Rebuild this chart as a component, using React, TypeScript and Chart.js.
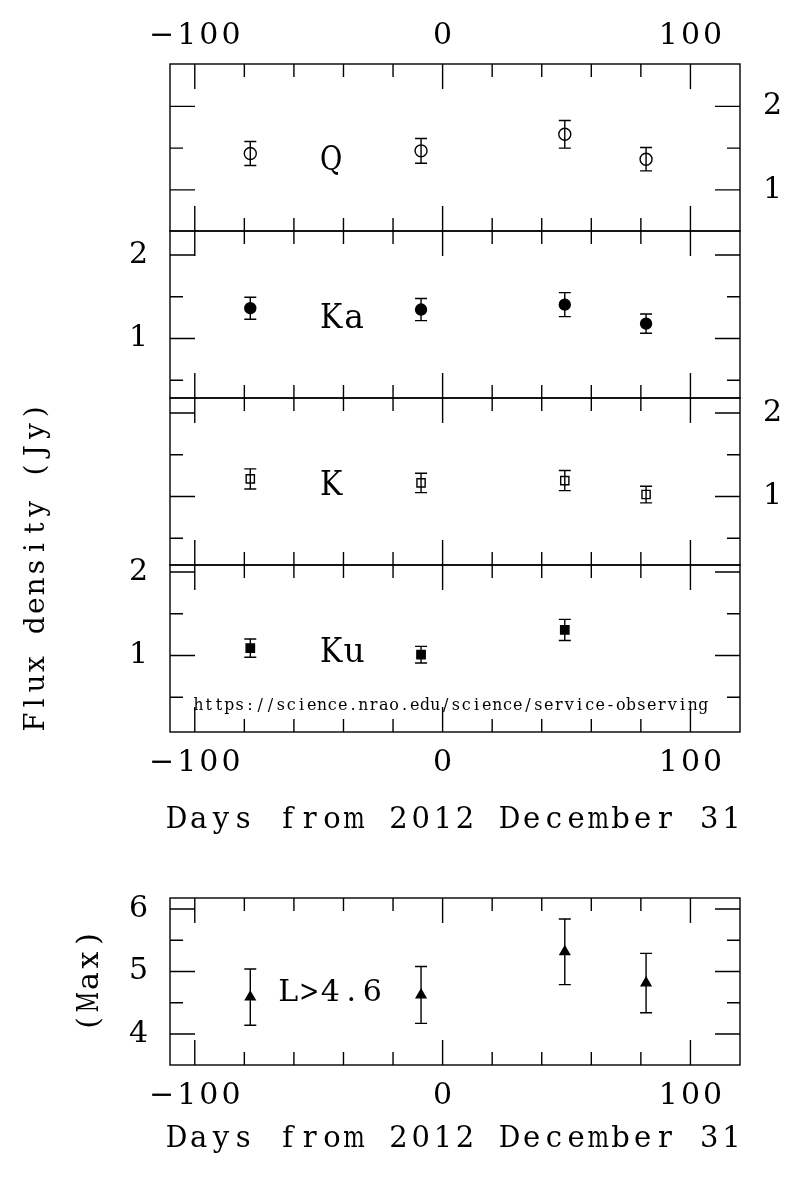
import React, { useEffect, useRef } from "react";
import { Chart, registerables } from "chart.js";

Chart.register(...registerables);

// ---------------- data ----------------
const obsDays = [-77.6, -8.7, 49.3, 82.1];
const qFlux = [1.436, 1.468, 1.666, 1.368];
const qErr = [0.144, 0.148, 0.166, 0.14];
const kaFlux = [1.362, 1.346, 1.405, 1.178];
const kaErr = [0.132, 0.132, 0.144, 0.115];
const kFlux = [1.211, 1.163, 1.191, 1.024];
const kErr = [0.12, 0.116, 0.12, 0.1];
const kuDays = [-77.6, -8.7, 49.3];
const kuFlux = [1.089, 1.01, 1.306];
const kuErr = [0.109, 0.1, 0.127];
const lMax = [4.59, 4.625, 5.315, 4.815];
const lErr = [0.45, 0.455, 0.525, 0.475];

const xMajor = [-100, 0, 100];
const xMinor = [-80, -60, -40, -20, 20, 40, 60, 80];
const fluxMajor = [1, 2];
const fluxMinor = [0.5, 1.5];
const lMajor = [4, 5, 6];
const lMinor = [4.5, 5.5];

const xTitle = "Days from 2012 December 31";
const fluxTitle = "Flux density (Jy)";
const lTitle = "(Max)";
const urlText = "https://science.nrao.edu/science/service-observing";

// ---------------- styling ----------------
const FONT = '"DejaVu Serif", "Liberation Serif", serif';
const W = 800;
const H = 1182;
const X_MIN = -110;
const X_MAX = 120;
const FRAME_LEFT = 170;
const FRAME_RIGHT = 740;
const LW = 1.4;
const MAJOR_LEN = 25;
const MINOR_LEN = 13;
const Y_AXIS_W_LEFT = 120;
const Y_AXIS_W_RIGHT = 60;
const X_AXIS_H = 60;
const TICK_SIZE = 30;
const TICK_SPACING = 3;

type TextItem = {
  text: string;
  x: number;
  y: number;
  data?: boolean;
  size: number;
  pitch: number;
  align?: "left" | "center";
  rotate?: boolean;
};

type Panel = {
  top: number;
  bottom: number;
  yMin: number;
  yMax: number;
  ySide: "left" | "right";
  xTop: boolean;
  xBottom: boolean;
  xs: number[];
  ys: number[];
  errs: number[];
  style: string;
  filled: boolean;
  radius: number;
  yMajor: number[];
  yMinor: number[];
  texts: TextItem[];
};

const panels: Panel[] = [
  {
    top: 64, bottom: 231, yMin: 0.508, yMax: 2.508, ySide: "right", xTop: true, xBottom: false,
    xs: obsDays, ys: qFlux, errs: qErr, style: "circle", filled: false, radius: 6,
    yMajor: fluxMajor, yMinor: fluxMinor,
    texts: [{ text: "Q", x: -49.6, y: 1.338, data: true, size: 33, pitch: 23 }],
  },
  {
    top: 231, bottom: 398, yMin: 0.287, yMax: 2.287, ySide: "left", xTop: false, xBottom: false,
    xs: obsDays, ys: kaFlux, errs: kaErr, style: "circle", filled: true, radius: 5.5,
    yMajor: fluxMajor, yMinor: fluxMinor,
    texts: [{ text: "Ka", x: -49.6, y: 1.229, data: true, size: 33, pitch: 23 }],
  },
  {
    top: 398, bottom: 565, yMin: 0.18, yMax: 2.18, ySide: "right", xTop: false, xBottom: false,
    xs: obsDays, ys: kFlux, errs: kErr, style: "rect", filled: false, radius: 5.8,
    yMajor: fluxMajor, yMinor: fluxMinor,
    texts: [{ text: "K", x: -49.6, y: 1.126, data: true, size: 33, pitch: 23 }],
  },
  {
    top: 565, bottom: 732, yMin: 0.084, yMax: 2.084, ySide: "left", xTop: false, xBottom: true,
    xs: kuDays, ys: kuFlux, errs: kuErr, style: "rect", filled: true, radius: 5.9,
    yMajor: fluxMajor, yMinor: fluxMinor,
    texts: [
      { text: "Ku", x: -49.6, y: 1.026, data: true, size: 33, pitch: 23 },
      { text: urlText, x: -100.6, y: 0.403, data: true, size: 16, pitch: 10.3 },
      { text: xTitle, x: 454, y: 820, size: 29, pitch: 22.2, align: "center" },
      { text: fluxTitle, x: 37, y: 567, size: 28, pitch: 19.4, align: "center", rotate: true },
    ],
  },
  {
    top: 898, bottom: 1065, yMin: 3.503, yMax: 6.176, ySide: "left", xTop: false, xBottom: true,
    xs: obsDays, ys: lMax, errs: lErr, style: "triangle", filled: true, radius: 5.6,
    yMajor: lMajor, yMinor: lMinor,
    texts: [
      { text: "L>4.6", x: -66.5, y: 4.658, data: true, size: 30, pitch: 21 },
      { text: xTitle, x: 454, y: 1139, size: 29, pitch: 22.2, align: "center" },
      { text: lTitle, x: 90, y: 981, size: 30, pitch: 21, align: "center", rotate: true },
    ],
  },
];

const fmtTick = (v: number | string) => {
  const n = Number(v);
  return n < 0 ? "\u2212" + Math.abs(n) : String(n);
};

// typewriter-style text: every character centred in a fixed-width cell
function drawMono(ctx: CanvasRenderingContext2D, t: TextItem) {
  ctx.font = `${t.size}px ${FONT}`;
  ctx.textAlign = "center";
  ctx.textBaseline = "middle";
  const n = t.text.length;
  const total = n * t.pitch;
  const start = t.align === "center" ? -total / 2 : 0;
  for (let i = 0; i < n; i++) {
    const ch = t.text[i];
    if (ch === " ") continue;
    const w = ctx.measureText(ch).width;
    const maxW = t.pitch * 0.97;
    const sx = w > maxW ? maxW / w : 1;
    ctx.save();
    ctx.translate(start + (i + 0.5) * t.pitch, 0);
    ctx.scale(sx, 1);
    ctx.fillText(ch, 0, 0);
    ctx.restore();
  }
}

function makePlugin(p: Panel) {
  return {
    id: "pgplotFrame",
    beforeDraw(chart: any) {
      (chart.ctx as any).letterSpacing = TICK_SPACING + "px";
    },
    beforeDatasetsDraw(chart: any) {
      const ctx = chart.ctx as CanvasRenderingContext2D;
      const xs = chart.scales.x;
      const ys = chart.scales.y;
      ctx.save();
      ctx.strokeStyle = "#000";
      ctx.lineWidth = LW;
      const cap = 6;
      p.xs.forEach((xv, i) => {
        const px = xs.getPixelForValue(xv);
        const y1 = ys.getPixelForValue(p.ys[i] - p.errs[i]);
        const y2 = ys.getPixelForValue(p.ys[i] + p.errs[i]);
        ctx.beginPath();
        ctx.moveTo(px, y1);
        ctx.lineTo(px, y2);
        ctx.moveTo(px - cap, y1);
        ctx.lineTo(px + cap, y1);
        ctx.moveTo(px - cap, y2);
        ctx.lineTo(px + cap, y2);
        ctx.stroke();
      });
      ctx.restore();
    },
    afterDraw(chart: any) {
      const ctx = chart.ctx as CanvasRenderingContext2D;
      (ctx as any).letterSpacing = "0px";
      const { left, right, top, bottom } = chart.chartArea;
      const xs = chart.scales.x;
      const ys = chart.scales.y;
      ctx.save();
      ctx.strokeStyle = "#000";
      ctx.lineWidth = LW;
      ctx.strokeRect(left, top, right - left, bottom - top);
      ctx.beginPath();
      const xTick = (v: number, len: number) => {
        const px = xs.getPixelForValue(v);
        ctx.moveTo(px, top);
        ctx.lineTo(px, top + len);
        ctx.moveTo(px, bottom);
        ctx.lineTo(px, bottom - len);
      };
      const yTick = (v: number, len: number) => {
        if (v <= p.yMin || v >= p.yMax) return;
        const py = ys.getPixelForValue(v);
        ctx.moveTo(left, py);
        ctx.lineTo(left + len, py);
        ctx.moveTo(right, py);
        ctx.lineTo(right - len, py);
      };
      xMajor.forEach((v) => xTick(v, MAJOR_LEN));
      xMinor.forEach((v) => xTick(v, MINOR_LEN));
      p.yMajor.forEach((v) => yTick(v, MAJOR_LEN));
      p.yMinor.forEach((v) => yTick(v, MINOR_LEN));
      ctx.stroke();

      ctx.fillStyle = "#000";
      p.texts.forEach((t) => {
        const px = t.data ? xs.getPixelForValue(t.x) : t.x;
        const py = t.data ? ys.getPixelForValue(t.y) : t.y;
        ctx.save();
        ctx.translate(px, py);
        if (t.rotate) ctx.rotate(-Math.PI / 2);
        drawMono(ctx, t);
        ctx.restore();
      });
      ctx.restore();
    },
  };
}

function buildConfig(p: Panel): any {
  const tickFont = { family: FONT, size: TICK_SIZE };
  const hidden = {
    grid: { display: false, drawTicks: false },
    border: { display: false },
  };
  const xTicks = (pad: number) => ({
    font: tickFont,
    color: "#000",
    padding: pad,
    labelOffset: TICK_SPACING / 2,
    maxRotation: 0,
    minRotation: 0,
    autoSkip: false,
    callback: fmtTick,
  });
  const scales: any = {
    x: {
      type: "linear",
      position: "bottom",
      min: X_MIN,
      max: X_MAX,
      display: p.xBottom,
      ...hidden,
      ticks: xTicks(13),
      afterBuildTicks: (s: any) => {
        s.ticks = xMajor.map((v) => ({ value: v }));
      },
      afterFit: (s: any) => {
        s.height = p.xBottom ? X_AXIS_H : 0;
      },
    },
    y: {
      type: "linear",
      position: p.ySide,
      min: p.yMin,
      max: p.yMax,
      display: true,
      ...hidden,
      ticks: {
        font: tickFont,
        color: "#000",
        padding: p.ySide === "left" ? 22 - TICK_SPACING : 23,
        autoSkip: false,
        callback: fmtTick,
      },
      afterBuildTicks: (s: any) => {
        s.ticks = p.yMajor.map((v) => ({ value: v }));
      },
      afterFit: (s: any) => {
        s.width = p.ySide === "left" ? Y_AXIS_W_LEFT : Y_AXIS_W_RIGHT;
      },
    },
  };
  if (p.xTop) {
    scales.xTop = {
      type: "linear",
      position: "top",
      min: X_MIN,
      max: X_MAX,
      display: true,
      ...hidden,
      ticks: xTicks(10),
      afterBuildTicks: (s: any) => {
        s.ticks = xMajor.map((v) => ({ value: v }));
      },
      afterFit: (s: any) => {
        s.height = X_AXIS_H;
      },
    };
  }
  const padLeft = p.ySide === "left" ? FRAME_LEFT - Y_AXIS_W_LEFT : FRAME_LEFT;
  const padRight = p.ySide === "right" ? W - FRAME_RIGHT - Y_AXIS_W_RIGHT : W - FRAME_RIGHT;
  const padTop = p.xTop ? p.top - X_AXIS_H : p.top;
  const padBottom = p.xBottom ? H - p.bottom - X_AXIS_H : H - p.bottom;
  return {
    type: "scatter",
    data: {
      datasets: [
        {
          data: p.xs.map((x, i) => ({ x, y: p.ys[i] })),
          pointStyle: p.style,
          pointRadius: p.radius,
          pointHoverRadius: p.radius,
          backgroundColor: p.filled ? "#000" : "rgba(0,0,0,0)",
          borderColor: "#000",
          borderWidth: LW,
          showLine: false,
        },
      ],
    },
    options: {
      responsive: false,
      animation: false,
      devicePixelRatio: 1,
      events: [],
      layout: { padding: { left: padLeft, right: padRight, top: padTop, bottom: padBottom } },
      plugins: { legend: { display: false }, tooltip: { enabled: false }, title: { display: false } },
      scales,
    },
    plugins: [makePlugin(p)],
  };
}

function PanelChart({ panel }: { panel: Panel }) {
  const ref = useRef<HTMLCanvasElement>(null);
  useEffect(() => {
    const chart = new Chart(ref.current as HTMLCanvasElement, buildConfig(panel));
    return () => chart.destroy();
  }, [panel]);
  return (
    <canvas
      ref={ref}
      width={W}
      height={H}
      style={{ position: "absolute", left: 0, top: 0, width: W, height: H }}
    />
  );
}

export default function App() {
  return (
    <div style={{ position: "absolute", left: 0, top: 0, width: W, height: H, background: "#fff" }}>
      {panels.map((p, i) => (
        <PanelChart key={i} panel={p} />
      ))}
    </div>
  );
}
